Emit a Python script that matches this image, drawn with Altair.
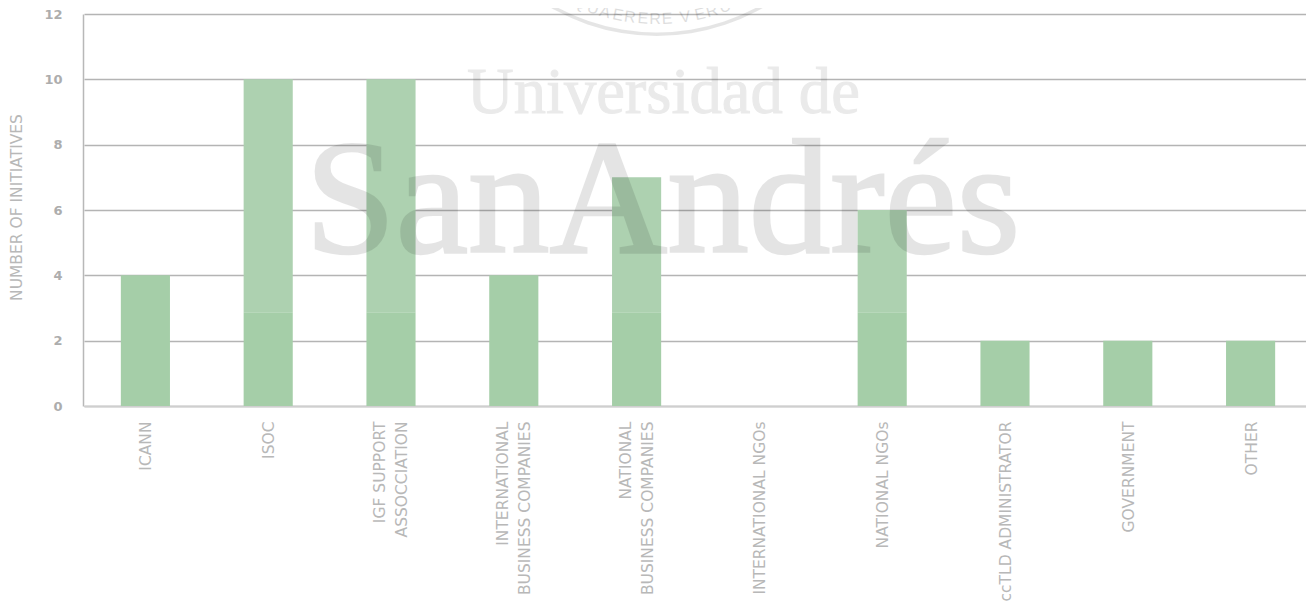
import math
import altair as alt
import pandas as pd

categories = ["ICANN", "ISOC", "IGF SUPPORT|ASSOCCIATION", "INTERNATIONAL|BUSINESS COMPANIES",
              "NATIONAL|BUSINESS COMPANIES", "INTERNATIONAL NGOs", "NATIONAL NGOs",
              "ccTLD ADMINISTRATOR", "GOVERNMENT", "OTHER"]
values = [4, 10, 10, 4, 7, 0, 6, 2, 2, 2]
shade_break = 2.87
y_ticks = [0, 2, 4, 6, 8, 10, 12]

seal_letters = list("QUAERERE VERUM")
seal_x = [580, 593, 605, 618, 630, 643, 655, 667, 676, 685, 700, 712, 725, 740]

WM = "#000000"
PL, PT = 83, 14

df = pd.DataFrame({"cat": categories, "v": values})
df["lo"] = [v if v <= 4 else shade_break for v in values]
df["hi"] = df["v"]
df["hi0"] = shade_break

xscale = alt.Scale(domain=categories, paddingInner=0.6, paddingOuter=0.3, range=[1, 1229])
yscale = alt.Scale(domain=[0, 12], nice=False)

x_enc = alt.X("cat:N", sort=None, scale=xscale, axis=alt.Axis(
    title=None, labelAngle=-90, labelAlign="right", labelBaseline="middle",
    labelExpr="split(datum.label, '|')", labelLineHeight=22,
    labelOffset=alt.expr("indexof(datum.value, '|') >= 0 ? -11 : 1"),
    labelFont="DejaVu Sans", labelFontSize=15.5, labelColor="#b8b8b8", labelPadding=15,
    labelOverlap=False, labelLimit=300, ticks=False, domainColor="#cfcfcf", domainWidth=2))

y_enc = alt.Y("lo:Q", scale=yscale, axis=alt.Axis(
    title="NUMBER OF INITIATIVES", values=y_ticks, grid=True, gridColor="#b4b4b4", gridWidth=1.3,
    ticks=False, domainColor="#b8b8b8", domainWidth=1.5,
    labelFont="DejaVu Sans", labelFontSize=13, labelFontWeight=600, labelColor="#adadad", labelPadding=21,
    titleFont="DejaVu Sans", titleFontSize=15.5, titleFontWeight=400, titleColor="#b8b8b8",
    titleX=-59, titleY=193, titleAngle=270))

lower = alt.Chart(df).mark_bar(color="#a5cea8").encode(x=x_enc, y=y_enc)
upper = (alt.Chart(df[df["v"] > 4]).mark_bar(color="#add1b0")
         .encode(x=alt.X("cat:N", sort=None, scale=xscale), y=alt.Y("hi0:Q", scale=yscale), y2="hi:Q"))

def wm_text(txt, px, py, size, sw, op):
    return (alt.Chart(pd.DataFrame({"t": [txt]}))
            .mark_text(font="Liberation Serif", fontSize=size, align="left", baseline="alphabetic",
                       color=WM, stroke=WM, strokeWidth=sw, opacity=op)
            .encode(x=alt.value(px - PL), y=alt.value(py - PT), text="t:N"))

cx, cy, r_text = 657, -178, 197
seal_df = pd.DataFrame({"ch": seal_letters, "px": seal_x})
seal_df["ang"] = [math.degrees(math.asin((cx - p) / r_text)) for p in seal_x]
seal_df["sx"] = seal_df["px"] - PL
seal_df["sy"] = [cy + math.sqrt(r_text**2 - (p - cx)**2) - PT for p in seal_x]
seal = (alt.Chart(seal_df).mark_text(font="Liberation Sans", fontSize=16, color=WM, opacity=0.13,
                                     align="center", baseline="middle")
        .encode(x=alt.X("sx:Q", scale=None), y=alt.Y("sy:Q", scale=None), text="ch:N",
                angle=alt.Angle("ang:Q", scale=None)))
ring = (alt.Chart(pd.DataFrame({"a": [1]}))
        .mark_arc(radius=214, radius2=210.5, theta=2.49, theta2=3.80, color=WM, opacity=0.1)
        .encode(x=alt.value(cx - PL), y=alt.value(cy - PT)))

chart = (alt.layer(lower, upper, wm_text("SanAndrés", 305, 252, 163, 2.5, 0.1),
                   wm_text("Universidad de", 467, 113, 64.6, 1, 0.08), seal, ring)
         .properties(width=1228, height=392,
                     padding={"left": 75, "top": 6, "right": -5, "bottom": 198},
                     autosize=alt.AutoSizeParams(type="none"))
         .configure_view(stroke=None))

chart.save("out.html", embed_options={"renderer": "svg", "actions": False})
